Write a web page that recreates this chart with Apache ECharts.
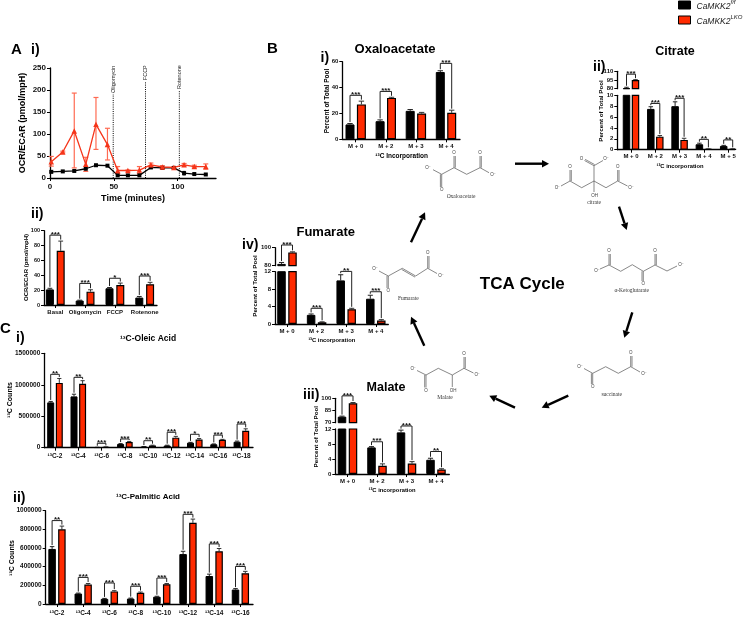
<!DOCTYPE html>
<html><head><meta charset="utf-8">
<style>html,body{margin:0;padding:0;background:#fff}#c{width:743px;height:617px}</style>
<script src="https://cdn.jsdelivr.net/npm/echarts@6/dist/echarts.min.js"></script>
</head><body><div id="c"></div>
<script>
// ---------- data ----------
const seahorseTime = [1,10,19,28,36,45,53,61,70,79,88,97,105,113,122];
const seahorseBlack = [14,15,16,21,29,28,6,6,6,24,23,23,11,9,8];
const seahorseBlackErr = [2,1,1,2,2,2,1,1,1,2,2,1,4,1,1];
const seahorseRed = [37,59,107,31,122,76,17,17,18,30,25,24,30,26,26];
const seahorseRedHigh = [49,61,193,47,183,113,26,18,26,34,28,26,33,29,32];
const seahorseRedLow = [27,57,23,15,65,41,10,16,10,26,22,22,27,23,20];
const treatmentNames = ['Oligomycin','FCCP','Rotenone'];
const treatmentTimes = [49.5,74.8,101.3];
const treatmentTops = [191,220,200];
const seahorseXTicks = [0,50,100];
const seahorseYTicks = [0,50,100,150,200,250];

const ocrCats = ['Basal','Oligomycin','FCCP','Rotenone'];
const ocrBlack = [21,6,22.5,10];
const ocrRed = [73,18,27,28];
const ocrBlackErr = [1.5,0.5,1,1.5];
const ocrRedErr = [13,2.5,2.5,2.5];
const ocrLevels = [94,29,36,39];
const ocrStars = ['***','***','*','***'];
const ocrTicks = [0,20,40,60,80,100];

const oleicCats = ['¹³C-2','¹³C-4','¹³C-6','¹³C-8','¹³C-10','¹³C-12','¹³C-14','¹³C-16','¹³C-18'];
const oleicBlack = [720000,815000,5000,60000,15000,35000,80000,55000,95000];
const oleicRed = [1030000,1015000,10000,90000,35000,160000,130000,125000,270000];
const oleicBlackErr = [15000,35000,2000,5000,3000,5000,5000,5000,10000];
const oleicRedErr = [70000,50000,2000,10000,5000,20000,15000,8000,30000];
const oleicLevels = [1166000,1118000,70000,138000,111000,245000,213000,200000,376000];
const oleicStars = ['**','**','***','***','**','***','*','***','***'];
const oleicTicks = [0,500000,1000000,1500000];

const palmiticCats = ['¹³C-2','¹³C-4','¹³C-6','¹³C-8','¹³C-10','¹³C-12','¹³C-14','¹³C-16'];
const palmiticBlack = [590000,112000,55000,58000,78000,535000,300000,155000];
const palmiticRed = [800000,208000,135000,120000,212000,870000,565000,330000];
const palmiticBlackErr = [25000,5000,5000,5000,5000,30000,20000,10000];
const palmiticRedErr = [35000,12000,8000,8000,8000,40000,30000,20000];
const palmiticLevels = [894000,285000,225000,190000,278000,961000,644000,402000];
const palmiticStars = ['**','***','***','***','***','***','***','***'];
const palmiticTicks = [0,200000,400000,600000,800000,1000000];

const oxaCats = ['M + 0','M + 2','M + 3','M + 4'];
const oxaBlack = [11.5,14,22,52];
const oxaRed = [27,32,20,20.5];
const oxaBlackErr = [0.7,1,1,1];
const oxaRedErr = [2.5,0.5,0.8,2];
const oxaLevels = [34,37,null,58.7];
const oxaStars = ['***','***','','***'];
const oxaTicks = [0,20,40,60];

const citCats = ['M + 0','M + 2','M + 3','M + 4','M + 5'];
const citBlack = [81,7.5,8,1,0.7];
const citRed = [95,2.4,1.8,0.1,0.1];
const citBlackErr = [1.5,0.4,0.8,0.2,0.1];
const citRedErr = [0.6,0.2,0.3,0.05,0.05];
const citLevels = [105,8.5,9.45,1.9,1.8];
const citStars = ['***','***','***','**','**'];
const citUpperTicks = [80,95,110];
const citLowerTicks = [0,2,4,6,8,10];

const fumCats = ['M + 0','M + 2','M + 3','M + 4'];
const fumBlack = [82,2.1,10,5.8];
const fumRed = [94.8,0.4,3.4,0.8];
const fumBlackErr = [1.6,0.2,1.3,0.8];
const fumRedErr = [0.6,0.1,0.2,0.2];
const fumLevels = [103,3.6,12.07,7.4];
const fumStars = ['***','***','**','***'];
const fumUpperTicks = [80,100];
const fumLowerTicks = [0,4,8,12];

const malCats = ['M + 0','M + 2','M + 3','M + 4'];
const malBlack = [77.4,7.1,11.1,3.8];
const malRed = [93.8,2.2,2.8,1.2];
const malBlackErr = [0.7,0.2,0.6,0.4];
const malRedErr = [1,0.5,0.5,0.2];
const malLevels = [103,8.6,12.8,6];
const malStars = ['***','***','***','**'];
const malUpperTicks = [70,85,100];
const malLowerTicks = [0,4,8,12];

// ---------- style + builders ----------
const FF = '"Liberation Sans", Arial, sans-serif';
const BLACK_NAME = 'CaMKK2f/f', RED_NAME = 'CaMKK2LKO';
const RED = '#ff2a00';
const grids = [], xAxes = [], yAxes = [], series = [], gfx = [];

function fmtNum(v){ return String(v); }

function addGrid(left, right, top, bottom, xMin, xMax, yMin, yMax, yTicks, opts){
  const idx = grids.length;
  grids.push({left, top, width: right-left, height: bottom-top, containLabel:false});
  const fs = opts.tickSize || 7, xfs = opts.xTickSize || fs;
  const xTicks = opts.xTicks;
  xAxes.push({
    type:'value', gridIndex:idx, min:xMin, max:xMax, show:true,
    splitLine:{show:false},
    axisLine:{show:!opts.hideX, onZero:false, lineStyle:{color:'#000',width:opts.lw||1.3}},
    axisTick:{show:!opts.hideX, customValues:xTicks, length:3, lineStyle:{color:'#000',width:1}},
    axisLabel:{show:!opts.hideX, customValues:xTicks, margin:opts.xMargin||4, fontFamily:FF, fontWeight:'bold', fontSize:xfs, color:'#111',
      hideOverlap:false, showMinLabel:true, showMaxLabel:true,
      formatter:v=> opts.xLabels ? opts.xLabels[Math.round(v)] : String(v)}
  });
  yAxes.push({
    type:'value', gridIndex:idx, min:yMin, max:yMax,
    splitLine:{show:false},
    axisLine:{show:true, onZero:false, lineStyle:{color:'#000',width:opts.lw||1.3}},
    axisTick:{show:true, customValues:yTicks, length:3, lineStyle:{color:'#000',width:1}},
    axisLabel:{show:true, customValues:yTicks, margin:opts.yMargin||4, fontFamily:FF, fontWeight:'bold', fontSize:fs, color:'#111',
      showMinLabel:true, showMaxLabel:true, formatter:fmtNum}
  });
  return idx;
}

function errorItem(color, capPx, lw){
  return function(params, api){
    const x = api.value(0), hi = api.value(1), lo = api.value(2);
    const a = api.coord([x,hi]), b = api.coord([x,lo]);
    const st = {stroke:color, lineWidth:lw};
    return {type:'group', children:[
      {type:'line', shape:{x1:a[0],y1:a[1],x2:b[0],y2:b[1]}, style:st},
      {type:'line', shape:{x1:a[0]-capPx,y1:a[1],x2:a[0]+capPx,y2:a[1]}, style:st}
    ]};
  };
}

function addBars(gi, black, red, bErr, rErr, off, barW, keep, keepErr){
  const pick = (arr, shift)=> arr.map((v,i)=>[i+shift, v]).filter(d=>keep(d[1]));
  const base = {type:'bar', xAxisIndex:gi, yAxisIndex:gi, barWidth:barW, barGap:'-100%', animation:false, silent:true};
  series.push(Object.assign({}, base, {name:BLACK_NAME, data:pick(black,-off), itemStyle:{color:'#000',borderColor:'#000',borderWidth:1}}));
  series.push(Object.assign({}, base, {name:RED_NAME, data:pick(red,off), itemStyle:{color:RED,borderColor:'#000',borderWidth:1.2}}));
  const errs = (arr, err, shift)=> arr.map((v,i)=>[i+shift, v+err[i], v, v]).filter(d=>keepErr(d[3]));
  const cap = barW*0.3;
  series.push({type:'custom', xAxisIndex:gi, yAxisIndex:gi, silent:true, animation:false, z:1,
    renderItem:errorItem('#222',cap,1), data:errs(black,bErr,-off), encode:{x:0,y:1}});
  series.push({type:'custom', xAxisIndex:gi, yAxisIndex:gi, silent:true, animation:false, z:1,
    renderItem:errorItem('#333',cap,1), data:errs(red,rErr,off), encode:{x:0,y:1}});
}

function addBrackets(gi, black, red, bErr, rErr, levels, stars, off, keepLevel){
  const rows = [];
  levels.forEach((lv,i)=>{
    if(lv==null || !keepLevel(lv)) return;
    rows.push([i, lv, black[i]+bErr[i], red[i]+rErr[i], stars[i]]);
  });
  series.push({type:'custom', xAxisIndex:gi, yAxisIndex:gi, silent:true, animation:false, z:5,
    renderItem:function(params, api){
      const r = rows[params.dataIndex];
      const top = api.coord([r[0]-off, r[1]]);
      const topR = api.coord([r[0]+off, r[1]]);
      const lb = api.coord([r[0]-off, r[2]]);
      const rb = api.coord([r[0]+off, r[3]]);
      const st = {stroke:'#222', lineWidth:1, fill:null};
      return {type:'group', children:[
        {type:'polyline', shape:{points:[[top[0],lb[1]-1.5],[top[0],top[1]],[topR[0],top[1]],[topR[0],rb[1]-1.5]]}, style:st},
        {type:'text', x:(top[0]+topR[0])/2, y:top[1]+3.5, style:{text:r[4], align:'center', verticalAlign:'bottom', font:'bold 8px '+FF, fill:'#111'}}
      ]};
    },
    data:rows.map(r=>[r[0],r[1]]), encode:{x:0,y:1}});
}

function barPanel(p){
  const xMin = (p.left-p.c0)/p.unit, xMax = (p.right-p.c0)/p.unit, off = p.off/p.unit;
  const xTicks = p.cats.map((_,i)=>i);
  const o = {xTicks, xLabels:p.cats, tickSize:p.tickSize, xTickSize:p.xTickSize, xMargin:p.xMargin};
  if(!p.upper){
    const gi = addGrid(p.left,p.right,p.top,p.bottom,xMin,xMax,p.yMin,p.yMax,p.ticks,o);
    addBars(gi,p.black,p.red,p.bErr,p.rErr,off,p.barW,()=>true,()=>true);
    addBrackets(gi,p.black,p.red,p.bErr,p.rErr,p.levels,p.stars,off,()=>true);
  } else {
    const u = p.upper;
    const gu = addGrid(p.left,p.right,u.top,u.bottom,xMin,xMax,u.min,u.max,u.ticks,Object.assign({},o,{hideX:true}));
    addBars(gu,p.black,p.red,p.bErr,p.rErr,off,p.barW,v=>v>=u.min,v=>v>=u.min);
    addBrackets(gu,p.black,p.red,p.bErr,p.rErr,p.levels,p.stars,off,lv=>lv>=u.min);
    const gl = addGrid(p.left,p.right,p.top,p.bottom,xMin,xMax,p.yMin,p.yMax,p.ticks,o);
    addBars(gl,p.black,p.red,p.bErr,p.rErr,off,p.barW,()=>true,v=>v<=p.yMax);
    addBrackets(gl,p.black,p.red,p.bErr,p.rErr,p.levels,p.stars,off,lv=>lv<u.min);
  }
}

function text(str,x,y,size,opts){
  opts = opts||{};
  gfx.push({type:'text', x, y, rotation:opts.rot||0, silent:true, z:20,
    style:{text:str, align:opts.align||'center', verticalAlign:'middle',
      font:(opts.style?opts.style+' ':'')+(opts.weight||'bold')+' '+size+'px '+(opts.family||FF), fill:opts.fill||'#000'}});
}
const ROT = Math.PI/2;

function errorItemBoth(color, capPx, lw){
  return function(params, api){
    const x = api.value(0), hi = api.value(1), lo = api.value(2);
    const a = api.coord([x,hi]), b = api.coord([x,lo]);
    const st = {stroke:color, lineWidth:lw};
    return {type:'group', children:[
      {type:'line', shape:{x1:a[0],y1:a[1],x2:b[0],y2:b[1]}, style:st},
      {type:'line', shape:{x1:a[0]-capPx,y1:a[1],x2:a[0]+capPx,y2:a[1]}, style:st},
      {type:'line', shape:{x1:a[0]-capPx,y1:b[1],x2:a[0]+capPx,y2:b[1]}, style:st}
    ]};
  };
}

// ---------- A i line panel ----------
(function(){
  const gi = addGrid(50,216,68,178,0,130,0,250,seahorseYTicks,{xTicks:seahorseXTicks,tickSize:8,yMargin:4,xMargin:5});
  const blackPts = seahorseTime.map((t,i)=>[t,seahorseBlack[i]]);
  const redPts = seahorseTime.map((t,i)=>[t,seahorseRed[i]]);
  series.push({type:'custom', xAxisIndex:gi, yAxisIndex:gi, silent:true, animation:false, z:1,
    renderItem:function(params, api){
      const k = params.dataIndex;
      const b = api.coord([treatmentTimes[k],0]), t = api.coord([treatmentTimes[k],treatmentTops[k]]);
      return {type:'group', children:[
        {type:'line', shape:{x1:b[0],y1:b[1],x2:t[0],y2:t[1]}, style:{stroke:'#000',lineWidth:1,lineDash:[1,1.2]}},
        {type:'text', x:t[0], y:t[1]-1, rotation:ROT, style:{text:treatmentNames[k], align:'left', verticalAlign:'middle', font:'5.5px '+FF, fill:'#222'}}
      ]};
    },
    data:treatmentTimes.map((t,i)=>[t,treatmentTops[i]]), encode:{x:0,y:1}});
  series.push({type:'custom', xAxisIndex:gi, yAxisIndex:gi, silent:true, animation:false, z:2,
    renderItem:errorItemBoth('#ff6a52',2.5,1.2),
    data:seahorseTime.map((t,i)=>[t,seahorseRedHigh[i],seahorseRedLow[i]]), encode:{x:0,y:1}});
  series.push({type:'custom', xAxisIndex:gi, yAxisIndex:gi, silent:true, animation:false, z:2,
    renderItem:errorItemBoth('#000',1.5,1),
    data:seahorseTime.map((t,i)=>[t,seahorseBlack[i]+seahorseBlackErr[i],seahorseBlack[i]-seahorseBlackErr[i]]), encode:{x:0,y:1}});
  series.push({type:'line', name:BLACK_NAME, xAxisIndex:gi, yAxisIndex:gi, data:blackPts, symbol:'rect', symbolSize:4, silent:true, animation:false, z:3,
    lineStyle:{color:'#000',width:1.3}, itemStyle:{color:'#000'}});
  series.push({type:'line', name:RED_NAME, xAxisIndex:gi, yAxisIndex:gi, data:redPts, symbol:'triangle', symbolSize:5.5, silent:true, animation:false, z:4,
    lineStyle:{color:'#f5351a',width:1.3}, itemStyle:{color:'#f5351a'}});
})();

// ---------- bar panels ----------
barPanel({cats:ocrCats,black:ocrBlack,red:ocrRed,bErr:ocrBlackErr,rErr:ocrRedErr,levels:ocrLevels,stars:ocrStars,
  left:44,right:157,c0:55.3,unit:29.8,off:5.4,barW:8,top:230.7,bottom:305,yMin:0,yMax:100,ticks:ocrTicks,tickSize:5.5,xTickSize:6});
barPanel({cats:oleicCats,black:oleicBlack,red:oleicRed,bErr:oleicBlackErr,rErr:oleicRedErr,levels:oleicLevels,stars:oleicStars,
  left:44.3,right:253,c0:55,unit:23.3,off:4.3,barW:7,top:353.3,bottom:447.7,yMin:0,yMax:1500000,ticks:oleicTicks,tickSize:6.5,xTickSize:6.5,xMargin:5});
barPanel({cats:palmiticCats,black:palmiticBlack,red:palmiticRed,bErr:palmiticBlackErr,rErr:palmiticRedErr,levels:palmiticLevels,stars:palmiticStars,
  left:45.7,right:253,c0:57,unit:26.2,off:4.9,barW:7.5,top:510.7,bottom:605.3,yMin:0,yMax:1000000,ticks:palmiticTicks,tickSize:6.5,xTickSize:6.5,xMargin:6});
barPanel({cats:oxaCats,black:oxaBlack,red:oxaRed,bErr:oxaBlackErr,rErr:oxaRedErr,levels:oxaLevels,stars:oxaStars,
  left:342.3,right:460,c0:355.7,unit:30.1,off:5.7,barW:9,top:61.7,bottom:139.3,yMin:0,yMax:60,ticks:oxaTicks,tickSize:6,xTickSize:6});
barPanel({cats:citCats,black:citBlack,red:citRed,bErr:citBlackErr,rErr:citRedErr,levels:citLevels,stars:citStars,
  left:617.3,right:735,c0:631,unit:24.3,off:4.5,barW:7.5,top:95.3,bottom:149.7,yMin:0,yMax:10,ticks:citLowerTicks,tickSize:6,xTickSize:6,
  upper:{top:71.3,bottom:88.7,min:80,max:110,ticks:citUpperTicks}});
barPanel({cats:fumCats,black:fumBlack,red:fumRed,bErr:fumBlackErr,rErr:fumRedErr,levels:fumLevels,stars:fumStars,
  left:275,right:388.3,c0:287,unit:29.6,off:5.5,barW:8.5,top:271.7,bottom:324,yMin:0,yMax:12,ticks:fumLowerTicks,tickSize:6,xTickSize:6,
  upper:{top:247.7,bottom:265.7,min:80,max:100,ticks:fumUpperTicks}});
barPanel({cats:malCats,black:malBlack,red:malRed,bErr:malBlackErr,rErr:malRedErr,levels:malLevels,stars:malStars,
  left:335.3,right:449.3,c0:347.5,unit:29.5,off:5.5,barW:8.5,top:429,bottom:474,yMin:0,yMax:12,ticks:malLowerTicks,tickSize:6,xTickSize:6,
  upper:{top:398.3,bottom:422.7,min:70,max:100,ticks:malUpperTicks}});

// ---------- texts ----------
text('A',11,50,15,{align:'left'}); text('i)',31,50,14,{align:'left'});
text('ii)',31,214,14,{align:'left'});
text('C',0,329,15,{align:'left'}); text('i)',16,338,14,{align:'left'});
text('ii)',13,498,14,{align:'left'});
text('B',267,49,15,{align:'left'}); text('i)',320.5,58,14,{align:'left'});
text('ii)',593,67,14,{align:'left'});
text('iii)',303,395,14,{align:'left'});
text('iv)',242,245,14,{align:'left'});

text('OCR/ECAR (pmol/mpH)',23,123,9,{rot:ROT});
text('Time (minutes)',133,199,9);
text('OCR/ECAR (pmol/mpH)',26.7,267.5,6,{rot:ROT});
text('¹³C-Oleic Acid',148,339,8.5,{});
text('¹³C Counts',10,400,7,{rot:ROT});
text('¹³C-Palmitic Acid',148,497,8,{});
text('¹³C Counts',12,558,7,{rot:ROT});

text('Oxaloacetate',395,49,13);
text('Percent of Total Pool',327,101,6.5,{rot:ROT});
text('¹³C Incorporation',401.7,156.5,6.5);
text('Citrate',675,52,12.5);
text('Percent of Total Pool',601.7,111,6.2,{rot:ROT});
text('¹³C incorporation',680,166,5.8);
text('Fumarate',325.7,232.7,13);
text('Percent of Total Pool',255.7,286,6.2,{rot:ROT});
text('¹³C incorporation',331.7,340.7,5.8);
text('Malate',386,388,12.5);
text('Percent of Total Pool',316.7,436.7,6.2,{rot:ROT});
text('¹³C incorporation',392,490.7,5.8);
text('TCA Cycle',522.3,284.3,17);

// ---------- pathway drawing ----------
const MOL='#555';
function bond(a,b,dbl){
  gfx.push({type:'line',silent:true,shape:{x1:a[0],y1:a[1],x2:b[0],y2:b[1]},style:{stroke:MOL,lineWidth:0.7}});
  if(dbl){
    const dx=b[0]-a[0],dy=b[1]-a[1],l=Math.hypot(dx,dy),nx=-dy/l*1.3,ny=dx/l*1.3;
    gfx.push({type:'line',silent:true,shape:{x1:a[0]+nx,y1:a[1]+ny,x2:b[0]+nx,y2:b[1]+ny},style:{stroke:MOL,lineWidth:0.7}});
  }
}
function chain(pts){ for(let i=0;i<pts.length-1;i++) bond(pts[i],pts[i+1]); }
function atom(s,x,y){ text(s,x,y,4.5,{weight:'normal',fill:'#444'}); }
function molName(s,x,y){ text(s,x,y,5.5,{weight:'normal',family:'"Liberation Serif", serif',fill:'#333'}); }
function arrow(x1,y1,x2,y2){
  const a=Math.atan2(y2-y1,x2-x1), L=7, W=3.8;
  const bx=x2-Math.cos(a)*L, by=y2-Math.sin(a)*L, nx=-Math.sin(a), ny=Math.cos(a);
  gfx.push({type:'line',silent:true,shape:{x1,y1,x2:bx,y2:by},style:{stroke:'#000',lineWidth:2.4}});
  gfx.push({type:'polygon',silent:true,shape:{points:[[x2,y2],[bx+nx*W,by+ny*W],[bx-nx*W,by-ny*W]]},style:{fill:'#000'}});
}
// oxaloacetate
chain([[433,169.7],[441.7,174.3],[454,167.7],[466.7,174.3],[480,167.7],[489,172.7]]);
bond([441.7,174.3],[441.7,187],true); bond([454,167.7],[454,156],true); bond([480,167.7],[480,156],true);
atom('O⁻',428,167.5); atom('O',441.7,190); atom('O',454,153); atom('O',480,153); atom('O⁻',493,174.5);
molName('Oxaloacetate',461,196.7);
// citrate
chain([[561,186],[570,181],[581.7,187.7],[594,181],[606,187.7],[617.7,181],[627.5,186]]);
bond([570,181],[570,170],true); bond([617.7,181],[617.7,170],true);
bond([594,181],[594,165.7]); bond([594,165.7],[584.5,160.5],true); bond([594,165.7],[603,160.5]); bond([594,181],[594,192]);
atom('O⁻',557.5,188); atom('O',570,167); atom('O',617.7,167); atom('O⁻',631,188); atom('O',581.5,159); atom('O⁻',606,159); atom('OH',594.5,195.7);
molName('citrate',594,203);
// alpha-ketoglutarate
chain([[600,269],[609,265],[620.7,271.3],[632.3,264.7],[643.3,271.3],[655,265],[667,271],[677,266]]);
bond([609,265],[609,254],true); bond([643.3,271.3],[643.3,281],true); bond([655,265],[655,254],true);
atom('O⁻',597,271); atom('O',609,251); atom('O',643.3,284); atom('O',655,251); atom('O⁻',681,265);
molName('α-Ketoglutarate',631.7,291);
// succinate
chain([[584,368.5],[592.7,373.3],[605.7,366.7],[618.3,373.3],[630.7,366.7],[640,372]]);
bond([592.7,373.3],[592.7,384],true); bond([630.7,366.7],[630.7,356],true);
atom('O⁻',580,366.7); atom('O',592.7,386.7); atom('O',630.7,353); atom('O⁻',644,373.3);
molName('succinate',611.7,395);
// malate
chain([[417,370.5],[426,375],[438.3,368.3],[452.3,375],[464,368.3],[473.5,373]]);
bond([426,375],[426,387.5],true); bond([452.3,375],[452.3,387]); bond([464,368.3],[464,357],true);
atom('O⁻',413.3,368.3); atom('O',426,390.7); atom('OH',453,390.7); atom('O',464,353.7); atom('O⁻',477.3,375);
molName('Malate',445,397.7);
// fumarate
chain([[379,271],[388.3,276],[402.3,268.3]]); bond([402.3,268.3],[415.7,276],true); chain([[415.7,276],[427.7,268.3],[437,273.5]]);
bond([388.3,276],[388.3,288],true); bond([427.7,268.3],[427.7,256],true);
atom('O⁻',375,269); atom('O',388.3,291); atom('O',427.7,252.7); atom('O⁻',441,276);
molName('Fumarate',408.3,298.7);
// arrows
arrow(515,163.7,549,163.7);
arrow(619,206.7,626.7,230);
arrow(632.3,312.3,624.3,337.7);
arrow(568.3,395.7,541.7,407.7);
arrow(515,407.7,489.3,395.7);
arrow(424.3,345.7,411,316.7);
arrow(411,242.3,425,212.3);

// ---------- chart ----------
const chart = echarts.init(document.getElementById('c'), null, {renderer:'canvas'});
chart.setOption({
  animation:false,
  backgroundColor:'#fff',
  textStyle:{fontFamily:FF},
  legend:{
    orient:'vertical', left:678, top:-3, itemWidth:12, itemHeight:8, itemGap:3, selectedMode:false,
    padding:[2,0,0,0],
    data:[
      {name:BLACK_NAME, icon:'rect', itemStyle:{color:'#000',borderColor:'#000',borderWidth:1}},
      {name:RED_NAME, icon:'rect', itemStyle:{color:RED,borderColor:'#000',borderWidth:1}}
    ],
    formatter:n=> n===BLACK_NAME ? '{a|CaMKK2}{b|f/f}' : '{a|CaMKK2}{b|LKO}',
    textStyle:{rich:{
      a:{fontFamily:FF,fontStyle:'italic',fontSize:8.5,color:'#222',lineHeight:12,verticalAlign:'bottom',padding:[0,0,0,1]},
      b:{fontFamily:FF,fontStyle:'italic',fontSize:6,color:'#222',lineHeight:12,verticalAlign:'top'}
    }}
  },
  grid:grids, xAxis:xAxes, yAxis:yAxes, series:series,
  graphic:{elements:gfx}
});
</script></body></html>
